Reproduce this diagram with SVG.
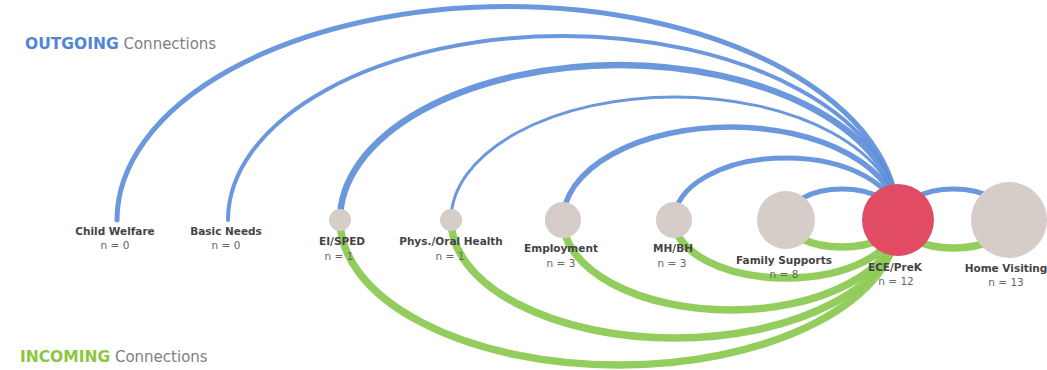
<svg xmlns="http://www.w3.org/2000/svg" width="1047" height="370" viewBox="0 0 1047 370">
  <style>
    .out { fill: none; stroke: #5E8FDA; stroke-opacity: 0.92; stroke-linecap: round; }
    .inc { fill: none; stroke: #8DCA55; stroke-opacity: 0.95; stroke-linecap: round; stroke-width: 7.5; }
    .node { fill: #D6CCC8; }
    .hub { fill: #E14B64; }
    .name { font-family: "DejaVu Sans", Verdana, sans-serif; font-size: 10.5px; font-weight: bold; fill: #444; text-anchor: middle; }
    .count { font-family: "DejaVu Sans", Verdana, sans-serif; font-size: 10.5px; fill: #666; text-anchor: middle; }
    .title { font-family: "DejaVu Sans", Verdana, sans-serif; font-size: 15px; fill: #7F7F7F; }
  </style>
  <rect width="1047" height="370" fill="#FFFFFF"/>

  <!-- legend titles -->
  <text class="title" x="25" y="49"><tspan font-weight="bold" font-size="15.5" fill="#4F86D6">OUTGOING</tspan> Connections</text>
  <text class="title" x="20" y="362"><tspan font-weight="bold" font-size="15.5" fill="#8DC63F">INCOMING</tspan> Connections</text>

  <!-- connectors: outgoing above the axis, incoming below -->
  <g id="connectors">
    <g id="outgoing">
      <path class="out" stroke-width="5" d="M117 220 A390.5 213.5 0 0 1 898 220"/>
      <path class="out" stroke-width="4" d="M228 220 A335 184 0 0 1 898 220"/>
      <path class="out" stroke-width="6.5" d="M340 220 A279 155 0 0 1 898 220"/>
      <path class="out" stroke-width="3" d="M451 220 A223.5 123 0 0 1 898 220"/>
      <path class="out" stroke-width="5.5" d="M563 220 A167.5 93 0 0 1 898 220"/>
      <path class="out" stroke-width="5" d="M674 220 A112 62 0 0 1 898 220"/>
      <path class="out" stroke-width="5" d="M786 220 A56 31 0 0 1 898 220"/>
      <path class="out" stroke-width="5" d="M898 220 A55.5 31 0 0 1 1009 220"/>
    </g>
    <g id="incoming">
      <path class="inc" d="M340 220 A279 145 0 0 0 898 220"/>
      <path class="inc" d="M451 220 A223.5 118 0 0 0 898 220"/>
      <path class="inc" d="M563 220 A167.5 90 0 0 0 898 220"/>
      <path class="inc" d="M674 220 A112 58 0 0 0 898 220"/>
      <path class="inc" d="M786 220 A56 27 0 0 0 898 220"/>
      <path class="inc" d="M898 220 A55.5 28 0 0 0 1009 220"/>
    </g>
  </g>

  <g id="child-welfare">
    <text class="name" x="115" y="235">Child Welfare</text>
    <text class="count" x="115" y="249">n = 0</text>
  </g>
  <g id="basic-needs">
    <text class="name" x="226" y="235">Basic Needs</text>
    <text class="count" x="226" y="249">n = 0</text>
  </g>
  <g id="ei-sped">
    <circle class="node" cx="340" cy="220" r="11"/>
    <text class="name" x="342" y="245">EI/SPED</text>
    <text class="count" x="339" y="260">n = 1</text>
  </g>
  <g id="phys-oral-health">
    <circle class="node" cx="451" cy="220" r="11"/>
    <text class="name" x="451" y="245">Phys./Oral Health</text>
    <text class="count" x="450" y="260">n = 1</text>
  </g>
  <g id="employment">
    <circle class="node" cx="563" cy="220" r="18"/>
    <text class="name" x="561" y="252">Employment</text>
    <text class="count" x="561" y="267">n = 3</text>
  </g>
  <g id="mh-bh">
    <circle class="node" cx="674" cy="220" r="18"/>
    <text class="name" x="673" y="252">MH/BH</text>
    <text class="count" x="672" y="267">n = 3</text>
  </g>
  <g id="family-supports">
    <circle class="node" cx="786" cy="220" r="29"/>
    <text class="name" x="784" y="264">Family Supports</text>
    <text class="count" x="784" y="278">n = 8</text>
  </g>
  <g id="ece-prek">
    <circle class="hub" cx="898" cy="220" r="36"/>
    <text class="name" x="895" y="271">ECE/PreK</text>
    <text class="count" x="896" y="285">n = 12</text>
  </g>
  <g id="home-visiting">
    <circle class="node" cx="1009" cy="220" r="38"/>
    <text class="name" x="1006" y="272">Home Visiting</text>
    <text class="count" x="1006" y="286">n = 13</text>
  </g>
</svg>
